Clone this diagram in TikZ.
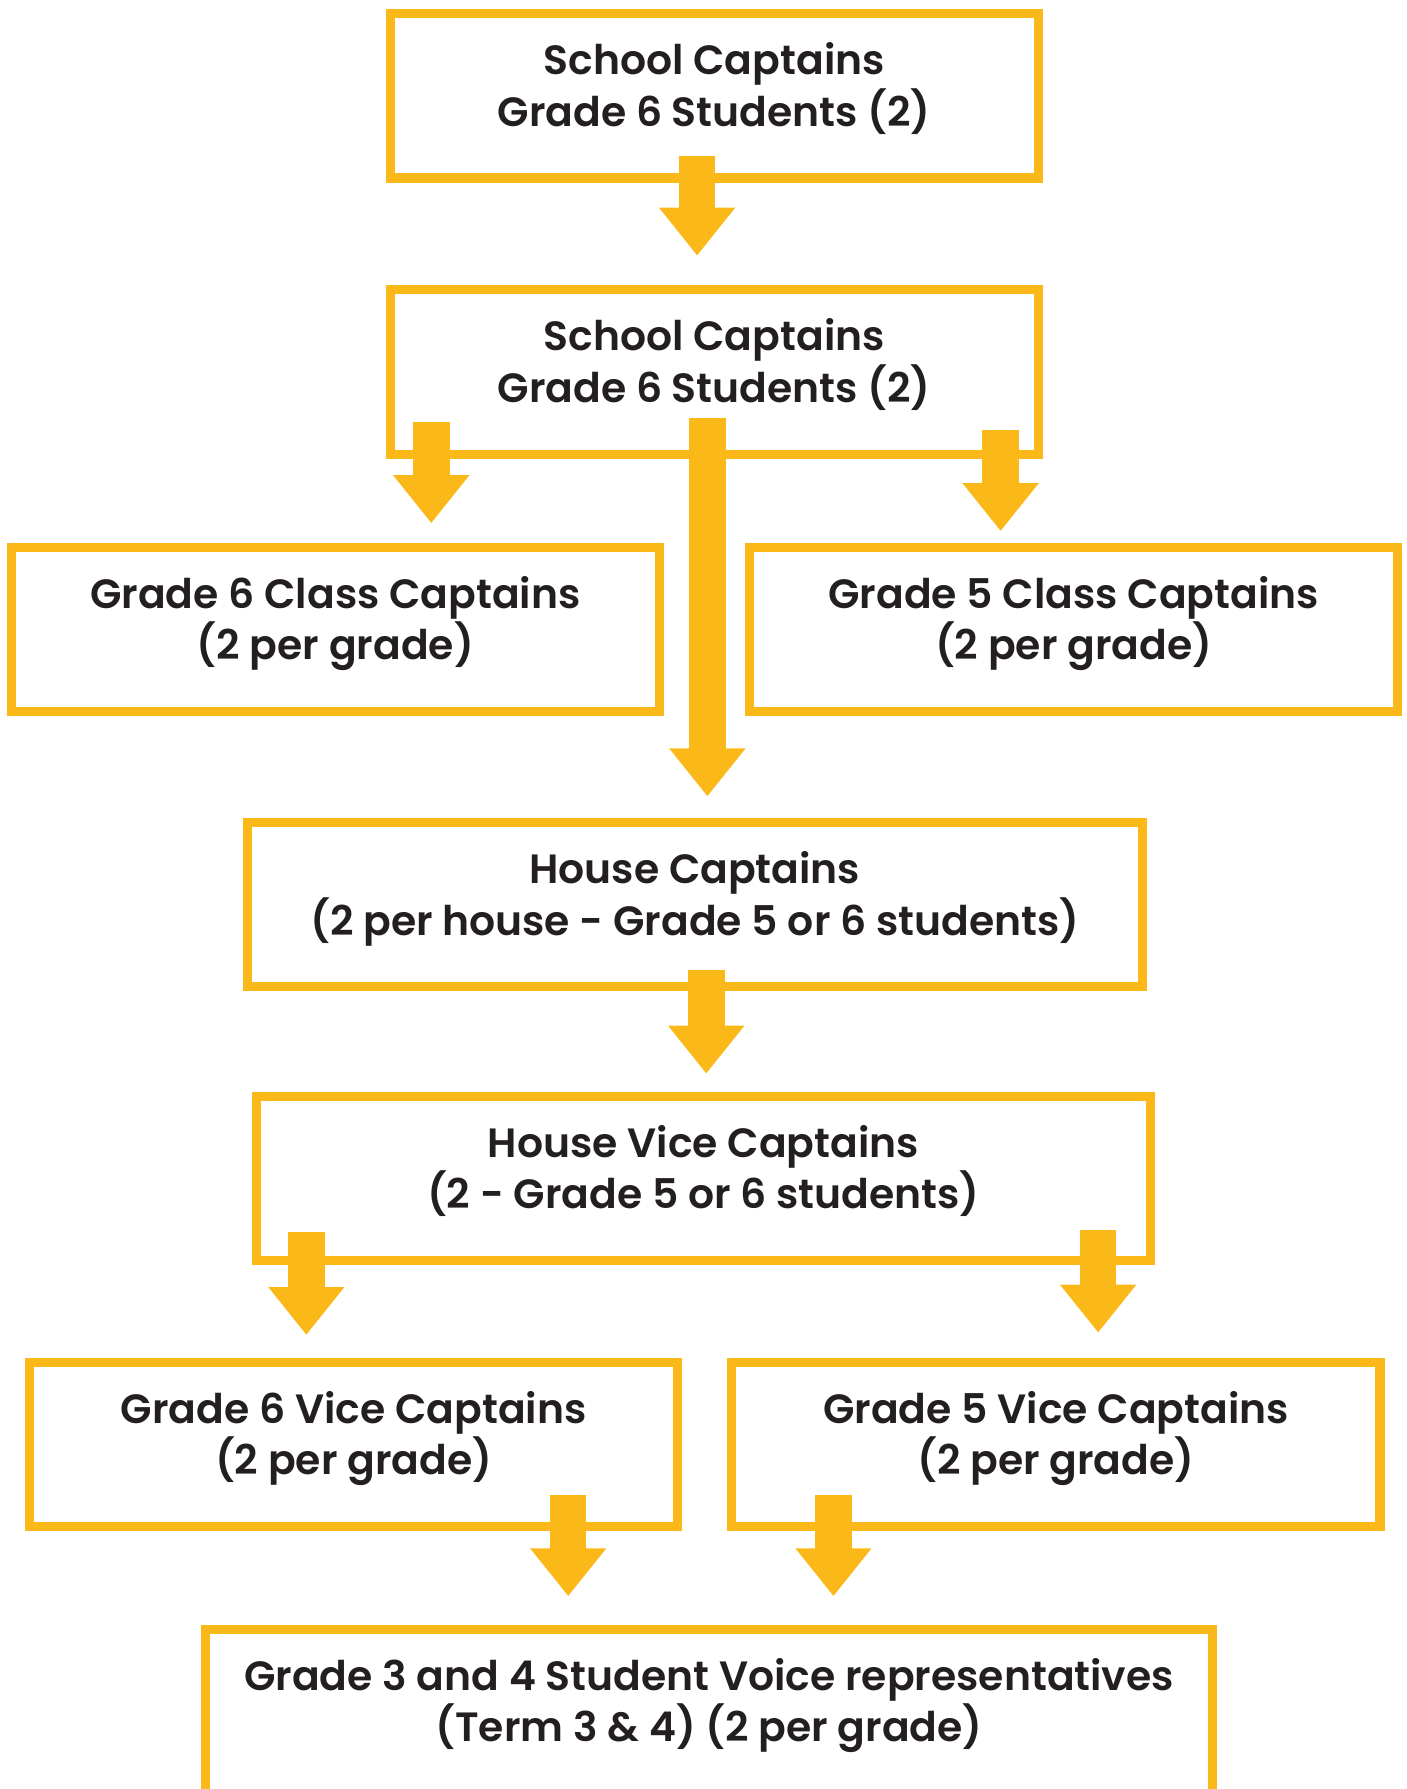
\documentclass[tikz,border=0pt]{standalone}
\usepackage{fontspec}
\setmainfont{Poppins}[BoldFont={* SemiBold}]
\usepackage{tikz}
\usetikzlibrary{calc,positioning,arrows.meta}
\definecolor{gold}{RGB}{251,185,25}
\definecolor{ink}{RGB}{35,31,32}
\tikzset{%
  box/.style={draw=gold,line width=0.8mm,inner sep=0pt,align=center,
    minimum width=56.8mm,minimum height=14.4mm,text=ink,
    font=\fontsize{10.2}{12.8}\selectfont\bfseries,
    execute at end node={\rule[-2.0mm]{0pt}{2.0mm}}},
  widebox/.style={box,minimum width=78.4mm},
  flow/.style={draw=gold,line width=3.2mm,-{Triangle[length=4.2mm,width=6.4mm]}}
}
\begin{document}
\begin{tikzpicture}[x=0.1mm,y=-0.1mm]
  \useasboundingbox (0,0) rectangle (1233,1568);
  \clip (0,0) rectangle (1233,1568);
  % boxes
  \node[box] (cap) at (626,84) {School Captains\\Grade 6 Students (2)};
  \node[box] (cap2) at (626,326) {School Captains\\Grade 6 Students (2)};
  \node[box] (cls6) at (294,551.5) {Grade 6 Class Captains\\(2 per grade)};
  \node[box] (cls5) at (941,551.5) {Grade 5 Class Captains\\(2 per grade)};
  \node[widebox] (house) at (609,793) {House Captains\\(2 per house - Grade 5 or 6 students)};
  \node[widebox] (hvice) at (616.5,1033) {House Vice Captains\\(2 - Grade 5 or 6 students)};
  \node[box] (vice6) at (310,1266) {Grade 6 Vice Captains\\(2 per grade)};
  \node[box] (vice5) at (925.5,1266) {Grade 5 Vice Captains\\(2 per grade)};
  \node[box,minimum width=88.3mm] (voice) at (621.5,1500)
    {Grade 3 and 4 Student Voice representatives\\(Term 3 \& 4) (2 per grade)};
  % arrows
  \draw[flow] ($(cap.south west)+(273,-23)$) -- ($(cap.south west |- cap2.north)+(273,-26)$);
  \draw[flow] ($(cap2.south west)+(40,-32)$) -- ($(cap2.south west |- cls6.north)+(40,-17)$);
  \draw[flow] ($(cap2.south west)+(282,-36)$) -- ($(cap2.south west |- house.north)+(282,-19)$);
  \draw[flow] ($(cap2.south west)+(539,-25)$) -- ($(cap2.south west |- cls5.north)+(539,-10)$);
  \draw[flow] ($(house.south west)+(406,-19)$) -- ($(house.south west |- hvice.north)+(406,-16)$);
  \draw[flow] ($(hvice.south west)+(48,-29)$) -- ($(hvice.south west |- vice6.north)+(48,-20)$);
  \draw[flow] ($(hvice.south west)+(742,-31)$) -- ($(hvice.south west |- vice5.north)+(742,-22)$);
  \draw[flow] ($(vice6.south west)+(476,-32)$) -- ($(vice6.south west |- voice.north)+(476,-25)$);
  \draw[flow] ($(vice5.south west)+(93,-32)$) -- ($(vice5.south west |- voice.north)+(93,-25)$);
\end{tikzpicture}
\end{document}
